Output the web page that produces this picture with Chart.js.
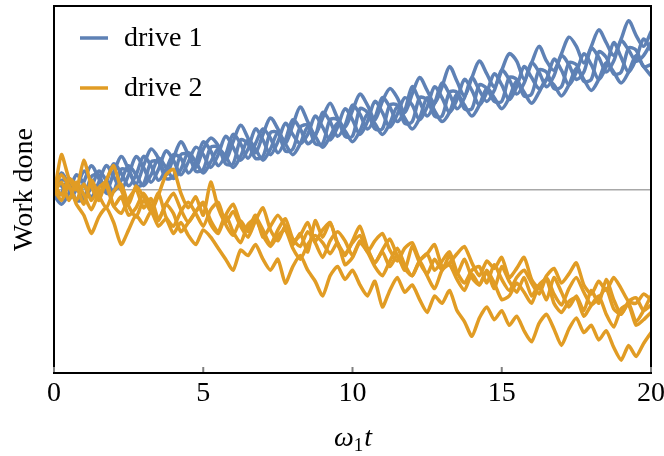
<!DOCTYPE html>
<html>
<head>
<meta charset="utf-8">
<script src="https://cdn.jsdelivr.net/npm/chart.js@4/dist/chart.umd.min.js"></script>
<style>
  html, body { margin: 0; padding: 0; background: #fff; }
  #wrap { width: 664px; height: 456px; }
</style>
</head>
<body>
<div id="wrap"><canvas id="chart" width="664" height="456"></canvas></div>
<script>
// time axis (omega_1 t)
const times = [0,0.25,0.5,0.75,1,1.25,1.5,1.75,2,2.25,2.5,2.75,3,3.25,3.5,3.75,4,4.25,4.5,4.75,5,5.25,5.5,5.75,6,6.25,6.5,6.75,7,7.25,7.5,7.75,8,8.25,8.5,8.75,9,9.25,9.5,9.75,10,10.25,10.5,10.75,11,11.25,11.5,11.75,12,12.25,12.5,12.75,13,13.25,13.5,13.75,14,14.25,14.5,14.75,15,15.25,15.5,15.75,16,16.25,16.5,16.75,17,17.25,17.5,17.75,18,18.25,18.5,18.75,19,19.25,19.5,19.75,20];
const xTicks = [0, 5, 10, 15, 20];

// drive 1 runs (blue)
const drive1a = [0,9,2,-6,4,13,6,-1,9,18, 11,3,13,22,17,8,17,26,19,12, 22,28,24,16,26,35,28,20,30,39, 33,25,35,45,37,30,39,47,39,34, 43,52,46,38,48,55,50,42,52,61, 54,47,56,67,59,51,61,70,63,56, 65,74,70,60,69,78,70,65,74,83, 78,69,78,87,80,73,82,92,84,78, 86];
const drive1b = [2,2,-5,0,10,5,-2,4,14,9, 2,8,18,13,5,11,19,17,9,15, 26,21,13,19,30,25,17,25,33,28, 20,27,38,33,25,29,42,37,29,35, 46,41,33,39,50,45,37,43,56,48, 40,47,58,52,44,50,61,54,48,54, 65,60,52,58,69,64,56,62,73,68, 60,64,77,72,64,70,81,76,70,73, 80];
const drive1c = [-3,-8,-2,8,3,-4,4,13,7,0, 8,18,12,4,11,21,16,8,15,23, 19,12,19,29,23,16,22,33,27,19, 26,36,30,25,30,40,34,27,34,44, 38,30,37,48,42,34,41,50,46,38, 45,56,50,42,49,60,54,46,53,63, 57,49,56,67,61,55,60,71,65,57, 64,74,68,60,67,80,72,64,71,82, 76];
const drive1d = [-5,-2,6,1,-4,1,10,5,-1,5, 13,8,2,8,17,12,6,11,20,15, 9,15,22,18,12,18,27,22,16,22, 31,25,19,25,34,29,23,29,36,32, 26,32,41,36,30,36,45,39,33,39, 50,43,37,42,52,46,40,46,55,50, 44,50,59,53,47,53,60,57,51,57, 66,60,54,60,69,64,58,64,73,67, 62];
const drive1e = [0,5,4,-6,-5,7,8,-2,-1,11, 10,2,3,15,15,6,7,19,19,10, 11,23,23,14,14,27,25,17,18,31, 31,21,22,34,35,25,25,38,38,29, 29,44,42,33,33,46,46,36,37,50, 49,40,40,53,53,44,44,57,55,48, 48,61,60,51,52,65,64,55,56,69, 68,59,60,75,72,63,64,77,76,67, 68];

// drive 2 runs (orange)
const drive2a = [0,8,2,-6,3,-6,1,4,-9,-13, -5,0,-10,-5,-16,-8,-2,-11,-18,-12, -7,-19,-24,-14,-8,-18,-22,-14,-26,-20, -14,-20,-28,-25,-18,-28,-22,-18,-29,-35, -29,-25,-34,-28,-24,-33,-39,-32,-29,-38, -35,-30,-42,-40,-35,-31,-40,-47,-39,-43, -37,-48,-43,-37,-49,-54,-47,-43,-51,-46, -40,-52,-57,-50,-55,-48,-54,-61,-62,-57, -60];
const drive2b = [3,-3,6,2,-8,5,-3,-10,-1,3, -9,-15,-6,-10,-2,-15,-20,-12,-7,-13, -20,-11,-7,-19,-25,-17,-23,-15,-22,-30, -22,-16,-27,-31,-23,-29,-37,-28,-23,-28, -36,-28,-33,-40,-33,-27,-36,-43,-47,-39, -35,-44,-39,-34,-45,-51,-44,-42,-51,-41, -49,-55,-48,-44,-51,-57,-48,-57,-63,-54, -48,-56,-63,-59,-54,-65,-68,-61,-59,-66, -63];
const drive2c = [-2,4,-6,4,-3,-11,-2,2,-9,-4, -14,-10,-2,-9,-17,-8,-13,-23,-18,-12, -8,-17,-23,-14,-23,-29,-19,-16,-25,-31, -25,-22,-32,-38,-30,-25,-29,-35,-29,-41, -37,-29,-34,-42,-47,-39,-32,-41,-47,-39, -47,-54,-44,-41,-49,-55,-46,-52,-44,-51, -60,-58,-51,-56,-62,-52,-49,-62,-67,-61, -59,-69,-63,-58,-68,-75,-65,-63,-74,-71, -67];
const drive2d = [0,-6,2,-8,-14,-24,-15,-10,-18,-30, -22,-14,-19,-12,-20,-16,-24,-18,-25,-30, -22,-26,-32,-38,-44,-33,-36,-30,-38,-44, -38,-51,-42,-36,-44,-50,-58,-47,-42,-49, -44,-52,-58,-50,-64,-55,-48,-56,-52,-60, -67,-58,-62,-55,-66,-72,-80,-70,-64,-71, -66,-74,-69,-77,-83,-73,-68,-76,-85,-76, -70,-78,-74,-82,-77,-86,-93,-85,-91,-84, -78];
const drive2e = [-3,19,6,0,16,2,-6,5,13,0, -8,2,-4,-12,-3,8,11,-2,-10,-4, -14,4,-10,-18,-12,-20,-26,-17,-10,-22, -28,-20,-30,-24,-34,-17,-26,-18,-30,-36, -28,-20,-32,-40,-34,-42,-36,-44,-31,-40, -46,-38,-44,-36,-46,-38,-48,-52,-45,-54, -42,-50,-56,-48,-58,-52,-60,-48,-56,-64, -58,-66,-55,-62,-49,-60,-68,-62,-72,-66, -58];

const legendNames = ['drive 1', 'drive 2'];
const blue = '#5E81B5';
const orange = '#E19C24';
const serif = "'Liberation Serif', 'Times New Roman', 'DejaVu Serif', serif";

function run(values, color, tension) {
  return {
    data: values,
    borderColor: color,
    borderWidth: 3.5,
    pointRadius: 0,
    tension: tension,
    borderJoinStyle: 'round',
    borderCapStyle: 'round',
    fill: false
  };
}

// frame, inward ticks, legend and x title
const decorations = {
  id: 'decorations',
  afterDraw(chart) {
    const { ctx, chartArea: a, scales } = chart;
    ctx.save();
    ctx.strokeStyle = '#000';
    ctx.lineWidth = 2;
    ctx.strokeRect(a.left, a.top, a.right - a.left, a.bottom - a.top);

    ctx.strokeStyle = '#808080';
    ctx.lineWidth = 2;
    xTicks.forEach(v => {
      const x = scales.x.getPixelForValue(v);
      ctx.beginPath();
      ctx.moveTo(x, a.bottom - 1);
      ctx.lineTo(x, a.bottom - 6);
      ctx.stroke();
    });

    const colors = [blue, orange];
    ctx.font = '28px ' + serif;
    ctx.textBaseline = 'middle';
    ctx.textAlign = 'left';
    legendNames.forEach((name, i) => {
      const y = 38 + i * 50;
      ctx.strokeStyle = colors[i];
      ctx.lineWidth = 3.5;
      ctx.beginPath();
      ctx.moveTo(80, y);
      ctx.lineTo(108, y);
      ctx.stroke();
      ctx.fillStyle = '#000';
      ctx.fillText(name, 124, y + 1);
    });

    // x title: italic omega, upright subscript 1, italic t
    const big = 'italic 28px ' + serif;
    const small = '19px ' + serif;
    ctx.font = big; const w1 = ctx.measureText('ω').width;
    ctx.font = small; const w2 = ctx.measureText('1').width;
    ctx.font = big; const w3 = ctx.measureText('t').width;
    const cx = (a.left + a.right) / 2;
    let x = cx - (w1 + w2 + w3) / 2;
    const base = 446;
    ctx.textBaseline = 'alphabetic';
    ctx.font = big; ctx.fillText('ω', x, base); x += w1;
    ctx.font = small; ctx.fillText('1', x, base + 5); x += w2 + 1;
    ctx.font = big; ctx.fillText('t', x, base);
    ctx.restore();
  }
};

new Chart(document.getElementById('chart'), {
  type: 'line',
  data: {
    labels: times,
    datasets: [
      run(drive2a, orange, 0.2), run(drive2b, orange, 0.2), run(drive2c, orange, 0.2), run(drive2d, orange, 0.2), run(drive2e, orange, 0.2),
      run(drive1a, blue, 0.3), run(drive1b, blue, 0.3), run(drive1c, blue, 0.3), run(drive1d, blue, 0.3), run(drive1e, blue, 0.3)
    ]
  },
  options: {
    responsive: false,
    animation: false,
    layout: { padding: { top: 6, right: 13, left: 0, bottom: 0 } },
    plugins: { legend: { display: false }, tooltip: { enabled: false } },
    scales: {
      x: {
        type: 'linear',
        min: 0,
        max: 20,
        afterFit(scale) { scale.height = 83; scale.paddingRight = 0; scale.paddingLeft = 0; },
        afterBuildTicks(scale) { scale.ticks = xTicks.map(v => ({ value: v })); },
        ticks: { color: '#000', font: { family: serif, size: 28 }, padding: 4, maxRotation: 0 },
        grid: { drawOnChartArea: false, drawTicks: false },
        border: { color: '#000', width: 2 }
      },
      y: {
        min: -100,
        max: 100,
        afterFit(scale) { scale.width = 54; },
        ticks: { display: false, stepSize: 100 },
        grid: {
          drawTicks: false,
          color: c => (c.tick && c.tick.value === 0 ? '#A8A8A8' : 'rgba(0,0,0,0)'),
          lineWidth: 1.5
        },
        border: { color: '#000', width: 2 },
        title: {
          display: true,
          text: 'Work done',
          color: '#000',
          font: { family: serif, size: 28 },
          padding: { top: 8, bottom: 0 }
        }
      }
    }
  },
  plugins: [decorations]
});
</script>
</body>
</html>
